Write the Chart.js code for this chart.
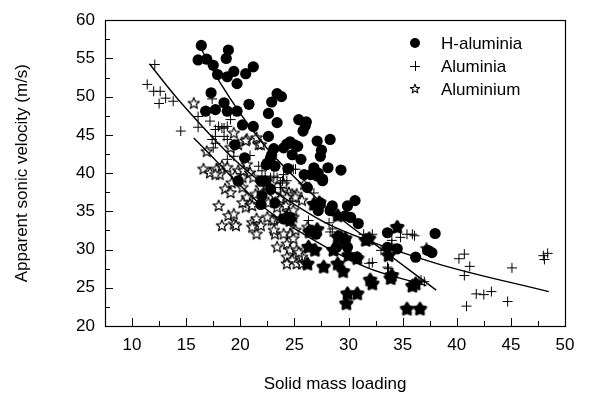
<!DOCTYPE html>
<html><head><meta charset="utf-8">
<script src="https://cdn.jsdelivr.net/npm/chart.js@4/dist/chart.umd.min.js"></script>
<style>html,body{margin:0;padding:0;background:#fff}</style>
</head><body>
<canvas id="c" width="591" height="401"></canvas>
<script>
const xTicks = [10, 15, 20, 25, 30, 35, 40, 45, 50];
const yTicks = [20, 25, 30, 35, 40, 45, 50, 55, 60];
const seriesNames = ['H-aluminia', 'Aluminia', 'Aluminium'];

const hAluminia = [
[16.4,56.7],[16.1,54.8],[16.9,54.9],[17.5,54.1],[17.9,52.9],[18.9,56.1],[18.7,55.0],[19.4,53.3],
[18.8,52.6],[19.7,51.7],[20.5,53.0],[21.2,53.9],[17.3,50.5],[16.8,48.1],[17.7,48.3],[18.5,49.2],
[18.8,48.1],[19.7,48.1],[20.8,49.0],[20.2,46.3],[21.2,46.1],[19.5,43.7],[20.4,42.0],[22.6,44.8],
[23.4,46.6],[22.9,49.3],[23.4,50.4],[23.8,50.0],[22.4,41.1],[23.2,40.9],[22.9,42.4],[24.3,43.8],
[19.8,39.0],[22.6,47.8],[25.4,47.0],[26.0,46.2],[25.8,45.5],[24.6,44.1],[24.0,43.3],[23.1,43.2],
[25.0,43.7],[25.3,43.5],[24.8,42.4],[22.8,42.0],[24.4,40.6],[25.9,39.8],[21.9,35.9],[23.2,36.1],
[22.0,37.0],[24.0,34.0],[24.6,34.2],[26.1,46.7],[27.1,44.2],[28.3,44.4],[27.5,43.0],[27.4,42.2],
[25.6,41.8],[26.8,40.7],[27.1,39.6],[27.6,39.2],[28.1,40.7],[29.3,40.4],[27.0,35.7],[27.2,35.1],
[28.3,35.1],[28.5,35.7],[29.9,35.7],[30.6,36.4],[29.7,34.4],[26.5,32.5],[27.0,32.0],[29.1,31.8],
[29.7,31.2],[28.9,30.3],[29.9,30.3],[30.8,29.0],[33.6,32.2],[34.5,30.1],[33.6,30.3],[36.2,29.0],
[38.0,32.1],[37.3,29.9],[37.7,29.6],[22.5,41.3],[27.2,40.0],[21.9,39.0],[26.2,38.1],[27.6,39.0],
[30.9,33.4],[30.2,34.2],[26.5,39.8],[22.3,39.0],[22.8,37.9],[27.4,36.1]
];

const aluminia = [
[12.1,54.2],[11.4,51.6],[12.0,50.7],[12.6,50.7],[12.5,49.1],[13.1,49.8],[13.8,49.4],[14.5,45.5],
[16.1,47.4],[17.4,49.7],[16.1,46.0],[17.2,46.8],[18.0,46.1],[18.5,45.9],[17.7,44.8],[17.7,43.9],
[17.4,44.4],[18.8,44.4],[18.5,44.8],[19.1,47.0],[17.5,43.3],[18.8,41.8],[19.4,42.2],[20.9,42.3],
[21.7,40.9],[22.8,39.4],[23.1,39.6],[23.9,39.0],[24.0,39.8],[17.7,45.7],[18.3,45.9],[18.8,46.1],
[22.0,40.3],[22.3,39.6],[23.4,39.4],[23.7,38.7],[24.3,39.0],[25.1,40.5],[22.2,38.3],[22.8,38.1],
[26.3,33.8],[23.7,38.1],[26.8,37.4],[28.2,33.5],[28.3,32.3],[31.4,32.0],[32.2,32.0],[33.0,29.9],
[32.2,28.3],[33.7,27.5],[35.4,32.0],[35.9,32.0],[34.0,31.2],[36.5,25.8],[24.9,40.5],[27.4,35.5],
[28.5,32.7],[31.9,28.2],[33.6,27.7],[34.8,31.6],[36.1,31.8],[34.0,30.7],[37.0,25.8],[40.2,28.8],
[40.7,29.4],[41.2,27.8],[40.7,26.6],[40.9,22.6],[41.8,24.2],[42.5,24.1],[43.2,24.5],[44.7,23.2],
[45.1,27.6],[48.0,29.2],[48.4,29.5],[48.1,28.7],[36.7,26.0]
];

const aluminium = [
[15.7,49.1],[20.6,44.4],[21.7,43.7],[16.9,42.8],[19.4,45.2],[17.8,40.5],[18.3,40.9],[18.8,40.7],
[18.1,39.8],[16.6,40.5],[17.2,40.0],[17.7,39.8],[19.8,40.3],[20.2,39.4],[20.6,41.1],[18.6,37.9],
[19.1,37.4],[20.5,44.2],[19.8,43.7],[19.1,43.3],[21.5,44.6],[21.9,43.7],[19.5,39.6],[19.2,38.7],
[20.2,38.1],[18.0,35.7],[18.9,34.4],[19.4,33.3],[18.3,33.1],[21.1,33.5],[20.6,36.8],[20.9,35.9],
[20.5,35.5],[21.4,37.2],[20.3,40.3],[20.9,40.0],[21.2,39.4],[21.9,38.1],[22.5,37.7],[22.9,38.5],
[23.9,37.2],[24.5,37.4],[24.9,36.8],[23.4,35.5],[24.2,35.7],[23.1,33.8],[23.7,34.0],[21.5,34.0],
[21.9,33.1],[21.1,32.9],[19.6,33.1],[19.4,34.6],[21.5,32.0],[23.2,32.0],[23.4,30.3],[22.9,33.8],
[24.6,32.0],[24.9,31.4],[24.3,30.7],[24.6,29.9],[25.2,29.9],[24.3,29.0],[24.8,28.6],[24.3,28.1],
[25.2,28.1],[25.7,29.0],[24.0,38.5],[24.8,37.2],[25.2,37.2],[25.7,36.4],[25.9,38.5],[24.9,34.2],
[26.2,32.9],[22.6,36.1],[25.1,36.8],[22.5,34.2],[24.5,34.8],[24.9,35.1],[23.1,32.5],[24.0,32.0],
[25.1,32.5],[25.4,29.6],[25.7,28.1],[37.2,30.1],[20.2,36.1],[21.1,35.7],[22.4,38.3],[23.2,37.0],
[23.7,36.6],[24.3,36.8]
];

const filledStars = [
[24.3,34.2],[24.6,33.8],[26.8,35.9],[27.3,36.1],[26.4,32.3],[27.1,32.6],[26.3,30.3],[26.9,29.9],
[26.2,28.1],[27.7,27.7],[29.0,34.4],[29.0,31.6],[29.7,31.4],[29.0,28.1],[29.5,27.1],[30.0,29.2],
[30.8,28.8],[31.6,31.2],[31.9,31.4],[32.0,26.0],[32.2,25.5],[29.9,24.2],[30.8,24.2],[29.8,22.9],
[34.0,26.6],[33.9,26.2],[34.5,32.9],[33.7,29.2],[35.9,25.2],[36.2,25.5],[35.4,22.2],[36.6,22.2],
[28.6,29.9]
];

const fitHAluminia = [[16.4,56.2],[18.1,51.9],[21.9,44.2],[26.6,37.3],[29.5,33.8],[33.0,30.1],[38.1,24.7]];
const fitAluminia  = [[11.6,54.3],[14.4,49.4],[20.6,40.3],[26.5,34.6],[28.6,33.0],[38.1,28.2],[48.5,24.5]];
const fitAluminium = [[15.7,44.6],[22.2,35.5],[25.4,32.4],[31.6,27.7],[37.2,25.3]];

const toXY = arr => arr.map(p => ({x: p[0], y: p[1]}));

function makeStar(r, inner, filled, lw) {
  const s = Math.ceil(r * 2 + 4);
  const cv = document.createElement('canvas');
  cv.width = s; cv.height = s;
  const g = cv.getContext('2d');
  const c = s / 2;
  g.beginPath();
  for (let i = 0; i < 10; i++) {
    const rr = i % 2 === 0 ? r : inner;
    const a = -Math.PI / 2 + i * Math.PI / 5;
    const px = c + rr * Math.cos(a), py = c + rr * Math.sin(a);
    if (i === 0) g.moveTo(px, py); else g.lineTo(px, py);
  }
  g.closePath();
  g.lineJoin = 'round';
  g.fillStyle = filled ? '#000' : '#fff';
  g.fill();
  g.lineWidth = lw; g.strokeStyle = '#000'; g.stroke();
  return cv;
}
const openStar = makeStar(6, 2.6, false, 1.2);
const blackStar = makeStar(6.2, 3.4, true, 2.6);
const legendStar = makeStar(4.8, 2.0, false, 1.1);

const FONT = '"Liberation Sans", Arial, sans-serif';

const framePlugin = {
  id: 'frame',
  afterDatasetsDraw(chart) {
    const {ctx, chartArea: a, scales} = chart;
    ctx.save();
    ctx.strokeStyle = '#000';
    ctx.lineWidth = 1.2;
    ctx.strokeRect(Math.round(a.left) + 0.5, Math.round(a.top) + 0.5,
                   Math.round(a.right - a.left), Math.round(a.bottom - a.top));
    ctx.lineWidth = 1;
    ctx.beginPath();
    const xs = scales.x, ys = scales.y;
    for (let v = xs.min; v <= xs.max + 1e-9; v += 2.5) {
      const major = xTicks.includes(v);
      const px = Math.round(xs.getPixelForValue(v)) + 0.5;
      ctx.moveTo(px, a.bottom);
      ctx.lineTo(px, a.bottom - (major ? 8 : 5));
    }
    for (let v = ys.min; v <= ys.max + 1e-9; v += 2.5) {
      const major = yTicks.includes(v);
      const py = Math.round(ys.getPixelForValue(v)) + 0.5;
      ctx.moveTo(a.left, py);
      ctx.lineTo(a.left + (major ? 8 : 5), py);
    }
    ctx.stroke();
    ctx.restore();
  },
  afterDraw(chart) {
    const {ctx} = chart;
    ctx.save();
    const x0 = 415, ys = [43, 66, 89], tx = 441;
    ctx.fillStyle = '#000'; ctx.strokeStyle = '#000'; ctx.lineWidth = 1;
    ctx.beginPath(); ctx.arc(x0, ys[0], 5, 0, Math.PI * 2); ctx.fill();
    ctx.beginPath();
    ctx.moveTo(x0 - 5, ys[1] + 0.5); ctx.lineTo(x0 + 5, ys[1] + 0.5);
    ctx.moveTo(x0 + 0.5, ys[1] - 5); ctx.lineTo(x0 + 0.5, ys[1] + 5);
    ctx.stroke();
    ctx.drawImage(legendStar, x0 - legendStar.width / 2, ys[2] - legendStar.height / 2);
    ctx.font = '17px ' + FONT;
    ctx.textAlign = 'left'; ctx.textBaseline = 'middle';
    seriesNames.forEach((n, i) => ctx.fillText(n, tx, ys[i] + 1));
    ctx.restore();
  }
};

new Chart(document.getElementById('c'), {
  type: 'scatter',
  data: {
    datasets: [
      {type: 'line', label: 'fit H', data: toXY(fitHAluminia), borderColor: '#000', borderWidth: 1.4,
       pointRadius: 0, cubicInterpolationMode: 'monotone', fill: false, order: 0},
      {type: 'line', label: 'fit A', data: toXY(fitAluminia), borderColor: '#000', borderWidth: 1.4,
       pointRadius: 0, cubicInterpolationMode: 'monotone', fill: false, order: 0},
      {type: 'line', label: 'fit Al', data: toXY(fitAluminium), borderColor: '#000', borderWidth: 1.4,
       pointRadius: 0, cubicInterpolationMode: 'monotone', fill: false, order: 0},
      {label: seriesNames[2], data: toXY(aluminium), pointStyle: openStar, pointRadius: 6, order: 4},
      {label: seriesNames[1], data: toXY(aluminia), pointStyle: 'cross', pointRadius: 5,
       borderColor: '#000', pointBorderWidth: 1, order: 3},
      {label: 'filled', data: toXY(filledStars), pointStyle: blackStar, pointRadius: 6, order: 2},
      {label: seriesNames[0], data: toXY(hAluminia), pointStyle: 'circle', pointRadius: 5.6,
       backgroundColor: '#000', borderColor: '#000', pointBorderWidth: 0, order: 1}
    ]
  },
  options: {
    responsive: false,
    animation: false,
    devicePixelRatio: 1,
    layout: {padding: {left: 0, right: 26, top: 18, bottom: 0}},
    plugins: {legend: {display: false}, tooltip: {enabled: false}},
    scales: {
      x: {
        type: 'linear', min: 7.5, max: 50,
        afterBuildTicks: s => { s.ticks = xTicks.map(v => ({value: v})); },
        afterFit: s => { s.height = 75; },
        grid: {display: false, drawTicks: false},
        border: {display: false},
        ticks: {color: '#000', padding: 9, font: {family: FONT, size: 17}, maxRotation: 0},
        title: {display: true, text: 'Solid mass loading', color: '#000',
                font: {family: FONT, size: 17}, padding: 6}
      },
      y: {
        type: 'linear', min: 20, max: 60,
        afterBuildTicks: s => { s.ticks = yTicks.map(v => ({value: v})); },
        afterFit: s => { s.width = 105; },
        grid: {display: false, drawTicks: false},
        border: {display: false},
        ticks: {color: '#000', padding: 10, font: {family: FONT, size: 17}},
        title: {display: true, text: 'Apparent sonic velocity (m/s)', color: '#000',
                font: {family: FONT, size: 17}, padding: 12}
      }
    }
  },
  plugins: [framePlugin]
});
</script>
</body></html>
